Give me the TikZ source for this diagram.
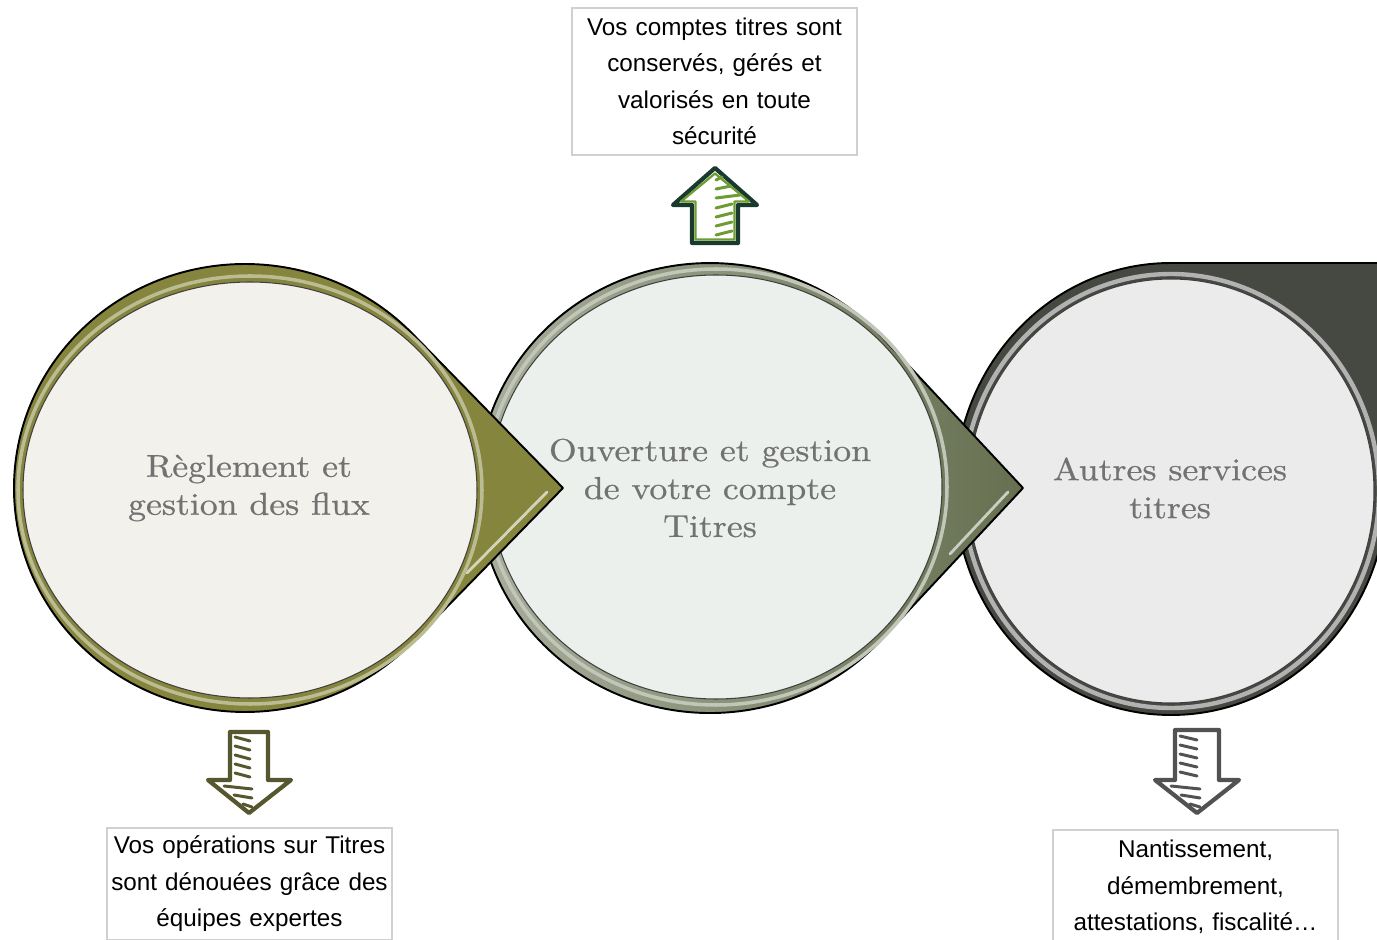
\documentclass[tikz,border=0pt]{standalone}
\usepackage{fontspec}
\usepackage{xcolor}
\usetikzlibrary{positioning,calc}
\newfontfamily\boxfont{Liberation Sans}
\newfontfamily\circfont{lmroman10-regular}[Extension=.otf, FakeStretch=1.13, FakeBold=0.7]
\definecolor{leftband}{HTML}{85853D}
\definecolor{leftfill}{HTML}{F3F1EC}
\definecolor{midband}{HTML}{667050}
\definecolor{midfill}{HTML}{ECF0EC}
\definecolor{rightring}{HTML}{464941}
\definecolor{rightfill}{HTML}{EBEBEB}
\definecolor{textgray}{HTML}{727272}
\definecolor{updark}{HTML}{1B3A2F}
\definecolor{upgreen}{HTML}{6E9B34}
\definecolor{downolive}{HTML}{57572F}
\definecolor{downgray}{HTML}{525252}
\definecolor{boxline}{HTML}{D0D0D0}

\begin{document}
\begin{tikzpicture}[x=0.2mm,y=0.2mm,
		box node/.style={draw=boxline, line width=1pt, fill=white, align=center, text width=57mm, inner xsep=0pt, inner ysep=1mm, font=\boxfont\fontsize{13.8}{20.8}\selectfont},
		circ label/.style={align=center, text=textgray, font=\circfont\fontsize{18}{21.6}\selectfont},
		rim/.style={draw=black, line width=1.1pt, line join=round},
		inner disc/.style={draw=black!75, line width=0.6pt},
		gloss/.style={line width=1.6pt, line cap=round},
		arrow body/.style={fill=white, line width=2.4pt, line join=round},
		scribble/.style={line width=1.7pt, line cap=round}]

	\useasboundingbox (0,0) rectangle (1377,939);
	\clip (0,0) rectangle (1377,939);
	\fill[white] (0,0) rectangle (1377,939);

	% third step, lowest layer
	\draw[rim, fill=rightring] (1171,676) arc[start angle=90, end angle=360, x radius=216, y radius=226] -- (1390,450) -- (1390,676) -- cycle;
	\draw[gray!60, line width=2.5pt] (1171,448) ellipse [x radius=208, y radius=217];
	\draw[inner disc, fill=rightfill] (1171,448) ellipse [x radius=203, y radius=212];

	% second step
	\draw[rim, left color=midband!55, right color=midband] (1023,451) -- (881.9,602.1) arc[start angle=42.2, end angle=317.8, x radius=232, y radius=225] -- cycle;
	\draw[midband!40, line width=2pt] (716,452) ellipse [x radius=231, y radius=218];
	\draw[inner disc, fill=midfill] (716,452) ellipse [x radius=226, y radius=212];
	\draw[gloss, midband!35!white] (1008,447) -- (950,385);

	% first step
	\draw[rim, fill=leftband] (563,451) -- (412.8,604.9) arc[start angle=43.4, end angle=316.6, x radius=231, y radius=224] -- cycle;
	\draw[leftband!55!white, line width=2pt] (250,449) ellipse [x radius=232, y radius=214];
	\draw[inner disc, fill=leftfill] (250,449) ellipse [x radius=227, y radius=208];
	\draw[gloss, leftband!35!white] (547,447) -- (467,366);

	\node[circ label] (reg) at (249,451) {Règlement et\\gestion des flux};
	\node[circ label] (ouv) at (710,451) {Ouverture et gestion\\de votre compte\\Titres};
	\node[circ label] (aut) at (1170,451) {Autres services\\titres};

	% up arrow
	\draw[arrow body, draw=updark] (715,771) -- (757,734) -- (738,734) -- (738,696) -- (692,696) -- (692,734) -- (673,734) -- cycle;
	\draw[upgreen, line width=1.3pt, line join=round] (715,765.5) -- (749,737.5) -- (734.5,737.5) -- (734.5,699.5) -- (695.5,699.5) -- (695.5,737.5) -- (681,737.5) -- cycle;
	\foreach \k in {0,...,3}
		\draw[scribble, upgreen] (716,704+9*\k) -- (732,708+9*\k);
	\foreach \y/\xe in {741/740, 750/731, 759/722}
		\draw[scribble, upgreen] (716,\y) -- (\xe,\y+3);

	% down arrow, first step
	\draw[arrow body, draw=downolive] (249,126) -- (291,159) -- (268,159) -- (268,207) -- (230,207) -- (230,159) -- (208,159) -- cycle;
	\foreach \k in {0,...,4}
		\draw[scribble, downolive] (235,166+9*\k) -- (250,162+9*\k);
	\foreach \y/\xs in {153/224, 144/234, 135/243}
		\draw[scribble, downolive] (\xs,\y) -- (252,\y-3);

	% down arrow, third step
	\draw[arrow body, draw=downgray] (1197,126) -- (1239,159) -- (1219,159) -- (1219,209) -- (1175,209) -- (1175,159) -- (1155,159) -- cycle;
	\foreach \k in {0,...,4}
		\draw[scribble, downgray] (1180,167+9*\k) -- (1197,163+9*\k);
	\foreach \y/\xs in {153/1171, 144/1181, 135/1190}
		\draw[scribble, downgray] (\xs,\y) -- (1200,\y-3);

	\node[box node, minimum height=29.4mm] (cons) at (714.5,857.5) {Vos comptes titres sont\\conservés, gérés et\\valorisés en toute\\sécurité};
	\node[box node, minimum height=22.4mm] (ops) at (249.5,55) {Vos opérations sur Titres\\sont dénouées grâce des\\équipes expertes};
	\node[box node, minimum height=22.8mm] (serv) at (1195.5,52) {Nantissement,\\démembrement,\\attestations, fiscalité…};
\end{tikzpicture}
\end{document}
